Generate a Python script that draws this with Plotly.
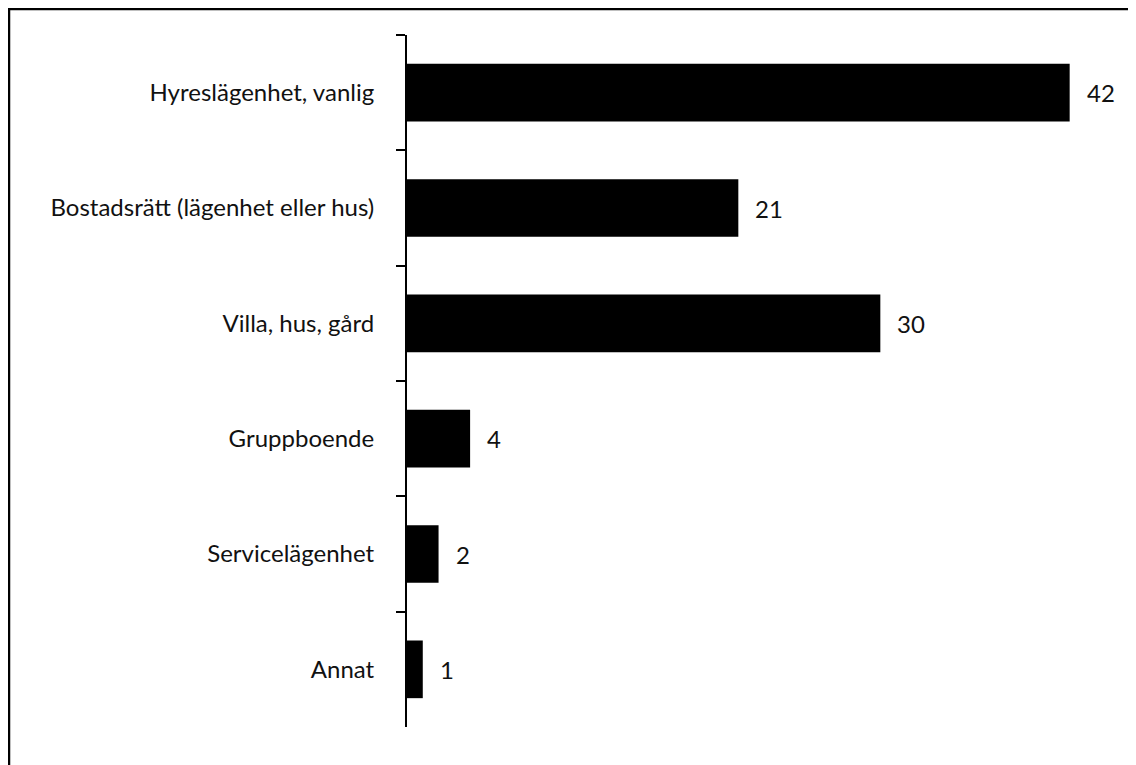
import plotly.graph_objects as go

categories = ["Hyreslägenhet, vanlig", "Bostadsrätt (lägenhet eller hus)", "Villa, hus, gård",
              "Gruppboende", "Servicelägenhet", "Annat"]
values = [42, 21, 30, 4, 2, 1]

W, H = 1136, 765
ml, mt, mb, mr = 399, 27, 46, 27
pw = W - ml - mr
ph = H - mt - mb

fig = go.Figure()
fig.add_trace(go.Bar(
    y=categories, x=values, orientation="h",
    marker=dict(color="black", line=dict(width=0)),
    hoverinfo="skip",
))

for c, v in zip(categories, values):
    fig.add_annotation(x=v, y=c, text=str(v), showarrow=False, xanchor="left",
                       xshift=15, font=dict(family="Lato", size=24, color="#111"))

# outer frame (top and left visible)
fig.add_shape(type="rect", xref="paper", yref="paper",
              x0=(1 - ml) / pw, x1=(W + 20 - ml) / pw,
              y0=1 - (H + 20 - mt) / ph, y1=1 - (1 - mt) / ph,
              line=dict(color="black", width=2.5), fillcolor="rgba(0,0,0,0)")

fig.update_layout(
    width=W, height=H,
    margin=dict(l=ml, r=mr, t=mt, b=mb, pad=0),
    paper_bgcolor="white", plot_bgcolor="white",
    bargap=0.5, showlegend=False,
    font=dict(family="Lato", size=24, color="#111"),
    xaxis=dict(range=[0, 45], visible=False, showgrid=False, zeroline=False),
    yaxis=dict(autorange="reversed", showline=True, linecolor="black", linewidth=2,
               ticks="outside", tickson="boundaries", ticklen=9, tickwidth=2,
               tickcolor="black", ticklabelstandoff=26, showgrid=False,
               tickfont=dict(family="Lato", size=24, color="#111")),
)

fig.write_html("out.html")
